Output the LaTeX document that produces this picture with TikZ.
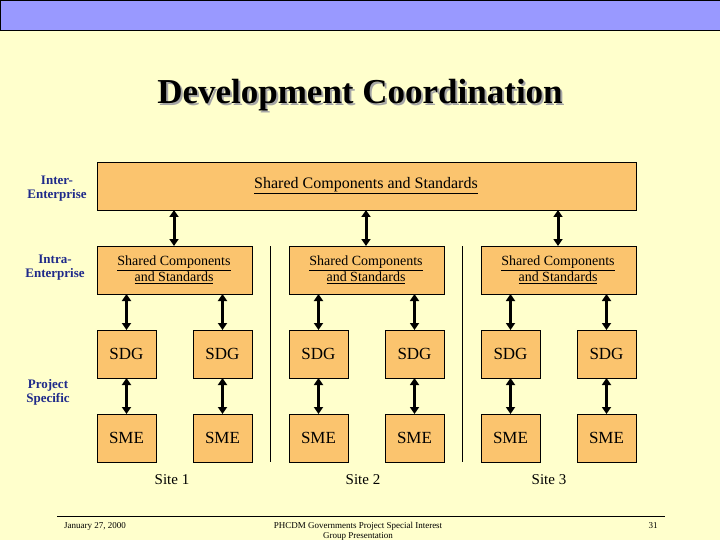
\documentclass[tikz,border=0pt]{standalone}
\usepackage{fontspec}
\setmainfont{Liberation Serif}
\usetikzlibrary{arrows.meta}
\definecolor{bg}{HTML}{FFFFCC}
\definecolor{bar}{HTML}{9999FF}
\definecolor{boxc}{HTML}{FBC46E}
\definecolor{lab}{HTML}{1F2A8A}
\begin{document}
\begin{tikzpicture}[x=1pt,y=-1pt,
  box/.style={draw=black,fill=boxc,line width=0.8pt},
  dbl/.style={{Triangle[length=7pt,width=9pt]}-{Triangle[length=7pt,width=9pt]},line width=3pt},
  side/.style={text=lab,font=\bfseries\fontsize{13}{14}\selectfont,align=center},
  captxt/.style={font=\fontsize{14}{15}\selectfont,align=center},
  foot/.style={font=\fontsize{9}{10}\selectfont}]
\useasboundingbox (0,0) rectangle (720,540);
\fill[bg] (0,0) rectangle (720,540);
\begin{scope}
\clip (0,0) rectangle (720,540);
\filldraw[fill=bar,draw=black,line width=0.8pt] (0,0) rectangle (720,30);
\node[text=gray!70,font=\bfseries\fontsize{35}{36}\selectfont] at (362,97) {Development Coordination};
\node[font=\bfseries\fontsize{35}{36}\selectfont] (title) at (360,95) {Development Coordination};

\node[side] (l1) at (57,189) {Inter-\\Enterprise};
\node[side] (l2) at (55,268) {Intra-\\Enterprise};
\node[side] (l3) at (48,392) {Project\\Specific};

\draw[box] (97,162) rectangle (636,210);
\node[captxt,font=\fontsize{16}{17}\selectfont] (top) at (366,186) {\underline{Shared Components and Standards}};

\foreach \i/\xl in {1/97,2/289,3/481}{
  \draw[box] (\xl,246) rectangle ({\xl+155},294);
  \node[captxt,font=\fontsize{14}{16}\selectfont] (in\i) at ({\xl+77},270) {\underline{Shared Components}\\\underline{and Standards}};
  \coordinate (it\i) at ({\xl+77},246);
  \draw[dbl] ({\xl+77},210) -- (it\i);
}
\foreach \j/\xl in {1/97,2/193,3/289,4/385,5/481,6/577}{
  \draw[box] (\xl,330) rectangle ({\xl+59},378);
  \node[font=\fontsize{17}{18}\selectfont] (sdg\j) at ({\xl+29.5},354) {SDG};
  \draw[box] (\xl,414) rectangle ({\xl+59},462);
  \node[font=\fontsize{17}{18}\selectfont] (sme\j) at ({\xl+29.5},438) {SME};
  \draw[dbl] ({\xl+29.5},294) -- ({\xl+29.5},330);
  \draw[dbl] ({\xl+29.5},378) -- ({\xl+29.5},414);
}
\draw[line width=0.8pt] (270,246) -- (270,462);
\draw[line width=0.8pt] (462,246) -- (462,462);

\node[captxt,font=\fontsize{15}{16}\selectfont] (s1) at (172,480) {Site 1};
\node[captxt,font=\fontsize{15}{16}\selectfont] (s2) at (363,480) {Site 2};
\node[captxt,font=\fontsize{15}{16}\selectfont] (s3) at (549,480) {Site 3};

\draw[line width=0.6pt] (57,516) -- (665,516);
\node[foot] (f1) at (95,526) {January 27, 2000};
\node[foot,align=center] (f2) at (358,531) {PHCDM Governments Project Special Interest\\Group Presentation};
\node[foot] (f3) at (653,526) {31};
\end{scope}
\end{tikzpicture}
\end{document}
